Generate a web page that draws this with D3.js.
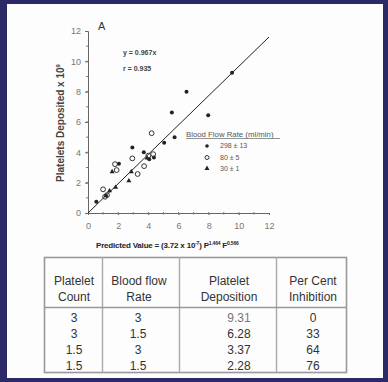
<!DOCTYPE html>
<html lang="en">
<head>
<meta charset="UTF-8">
<title>Platelet deposition</title>
<style>
    html, body { margin: 0; padding: 0; background: #2c2a66; }
    svg { display: block; font-family: "Liberation Sans", Arial, sans-serif; }
</style>
</head>
<body>
<svg id="chart"></svg>
<script src="https://d3js.org/d3.v7.min.js"></script>
<script>
    // Data: [predicted, deposited]
    var highFlow = [[0.55, 0.74], [2.05, 3.25], [2.94, 4.32], [3.7, 4.0], [4.06, 3.55], [4.37, 3.66],
                    [5.05, 4.63], [5.74, 5.0], [5.56, 6.62], [6.53, 8.0], [7.97, 6.45], [9.55, 9.25]];
    var midFlow = [[1.0, 1.56], [1.13, 1.07], [1.26, 1.18], [1.79, 3.22], [1.9, 2.83], [2.94, 3.6],
                   [3.29, 2.57], [3.72, 3.09], [4.0, 3.78], [4.32, 3.88], [4.22, 5.26]];
    var lowFlow = [[1.2, 1.15], [1.43, 1.46], [1.6, 2.72], [1.83, 1.69], [2.71, 2.12], [2.87, 2.72], [3.92, 3.62]];
    var slope = 0.967;
    var legendLabels = ["298 \u00b1 13", "80 \u00b1 5", "30 \u00b1 1"];

    var tableHead = [["Platelet", "Count"], ["Blood flow", "Rate"], ["Platelet", "Deposition"], ["Per Cent", "Inhibition"]];
    var tableRows = [["3", "3", "9.31", "0"], ["3", "1.5", "6.28", "33"], ["1.5", "3", "3.37", "64"], ["1.5", "1.5", "2.28", "76"]];

    var width = 388, height = 382;
    var svg = d3.select("#chart").attr("width", width).attr("height", height);

    // white slide panel
    svg.append("rect").attr("x", 7).attr("y", 4).attr("width", width - 12).attr("height", height - 8).attr("fill", "#fdfdfd");

    var x = d3.scaleLinear().domain([0, 12]).range([88, 269]);
    var y = d3.scaleLinear().domain([0, 12]).range([213, 31]);

    var g = svg.append("g");

    // axes
    var xAxis = d3.axisBottom(x).tickValues(d3.range(0, 13, 2)).tickSize(2).tickPadding(8);
    var yAxis = d3.axisLeft(y).tickValues(d3.range(0, 13, 2)).tickSize(3).tickPadding(4);

    var gx = g.append("g").attr("transform", "translate(0," + y(0) + ")").call(xAxis);
    var gy = g.append("g").attr("transform", "translate(" + x(0) + ",0)").call(yAxis);
    [gx, gy].forEach(function (a) {
        a.select(".domain").attr("stroke", "#666").attr("stroke-width", 1);
        a.selectAll(".tick line").attr("stroke", "#666");
        a.selectAll(".tick text").attr("fill", "#777").style("font-size", "9px").style("font-family", "Liberation Sans, Arial, sans-serif");
    });
    // minor ticks
    gx.selectAll(".minor").data(d3.range(1, 12)).enter().append("line")
        .attr("x1", d => x(d)).attr("x2", d => x(d)).attr("y1", -1).attr("y2", 1.5).attr("stroke", "#777");
    gy.selectAll(".minor").data(d3.range(1, 12)).enter().append("line")
        .attr("y1", d => y(d)).attr("y2", d => y(d)).attr("x1", -2).attr("x2", 1).attr("stroke", "#777");

    // regression line
    g.append("line")
        .attr("x1", x(0)).attr("y1", y(0))
        .attr("x2", x(12)).attr("y2", y(12 * slope))
        .attr("stroke", "#222").attr("stroke-width", 1);

    // points
    g.selectAll(".hi").data(highFlow).enter().append("circle")
        .attr("cx", d => x(d[0])).attr("cy", d => y(d[1])).attr("r", 2).attr("fill", "#222");
    g.selectAll(".mid").data(midFlow).enter().append("circle")
        .attr("cx", d => x(d[0])).attr("cy", d => y(d[1])).attr("r", 2.4)
        .attr("fill", "none").attr("stroke", "#333").attr("stroke-width", 1);
    var tri = d3.symbol().type(d3.symbolTriangle).size(11);
    g.selectAll(".lo").data(lowFlow).enter().append("path")
        .attr("d", tri).attr("transform", d => "translate(" + x(d[0]) + "," + y(d[1]) + ")").attr("fill", "#222");

    // panel letter and fit
    g.append("text").attr("x", 98).attr("y", 30).text("A").attr("fill", "#333").style("font-size", "11px");
    g.append("text").attr("x", 123).attr("y", 55).text("y = 0.967x").attr("fill", "#444")
        .style("font-size", "7px").style("font-weight", "bold");
    g.append("text").attr("x", 123).attr("y", 71).text("r = 0.935").attr("fill", "#444")
        .style("font-size", "7px").style("font-weight", "bold");

    // legend
    var lg = g.append("g");
    lg.append("text").attr("x", 186).attr("y", 137).text("Blood Flow Rate (ml/min)")
        .attr("fill", "#555").style("font-size", "7.8px");
    lg.append("line").attr("x1", 186).attr("x2", 280).attr("y1", 138.5).attr("y2", 138.5).attr("stroke", "#777").attr("stroke-width", 0.8);
    var ly = [148, 159.5, 170.5];
    lg.append("circle").attr("cx", 207).attr("cy", ly[0] - 2).attr("r", 1.8).attr("fill", "#222");
    lg.append("circle").attr("cx", 207).attr("cy", ly[1] - 2).attr("r", 2).attr("fill", "none").attr("stroke", "#333");
    lg.append("path").attr("d", tri).attr("transform", "translate(207," + (ly[2] - 2) + ")").attr("fill", "#222");
    lg.selectAll(".lt").data(legendLabels).enter().append("text")
        .attr("x", 220).attr("y", (d, i) => ly[i]).text(d => d)
        .attr("fill", "#555").style("font-size", "7px");

    // axis titles
    var yt = g.append("text").attr("transform", "translate(64,123) rotate(-90)")
        .attr("text-anchor", "middle").attr("fill", "#444")
        .style("font-size", "10px").style("font-weight", "bold");
    yt.append("tspan").text("Platelets Deposited x 10");
    yt.append("tspan").text("9").attr("dy", -4).style("font-size", "6px");

    var xt = g.append("text").attr("x", 96).attr("y", 248).attr("fill", "#222")
        .style("font-size", "8px").style("font-weight", "bold").style("letter-spacing", "-0.2px");
    xt.append("tspan").text("Predicted Value = (3.72 x 10");
    xt.append("tspan").text("-7").attr("dy", -3).style("font-size", "5px");
    xt.append("tspan").text(") P").attr("dy", 3);
    xt.append("tspan").text("1.464").attr("dy", -3).style("font-size", "5px");
    xt.append("tspan").text(" F").attr("dy", 3);
    xt.append("tspan").text("0.566").attr("dy", -3).style("font-size", "5px");

    // table
    var colX = [44.5, 102.5, 179.5, 276.5, 346.5];
    var tTop = 257.5, tHead = 307.5, tBot = 372.5;
    var tb = svg.append("g");
    tb.append("rect").attr("x", colX[0]).attr("y", tTop).attr("width", colX[4] - colX[0]).attr("height", tBot - tTop)
        .attr("fill", "none").attr("stroke", "#999").attr("stroke-width", 1.6);
    tb.selectAll(".cl").data(colX.slice(1, 4)).enter().append("line")
        .attr("x1", d => d).attr("x2", d => d).attr("y1", tTop).attr("y2", tBot)
        .attr("stroke", "#aaa").attr("stroke-width", 1.4);
    tb.append("line").attr("x1", colX[0]).attr("x2", colX[4]).attr("y1", tHead).attr("y2", tHead)
        .attr("stroke", "#999").attr("stroke-width", 1.4);

    var colC = [74, 139, 229, 313];
    var dataC = [74, 138, 239, 313];
    tableHead.forEach(function (h, i) {
        h.forEach(function (t, j) {
            tb.append("text").attr("x", colC[i]).attr("y", 285 + j * 16).attr("text-anchor", "middle")
                .text(t).attr("fill", "#333").style("font-size", "12px");
        });
    });
    tableRows.forEach(function (r, j) {
        r.forEach(function (t, i) {
            tb.append("text").attr("x", dataC[i]).attr("y", 321.5 + j * 16.3).attr("text-anchor", "middle")
                .text(t).attr("fill", i == 2 && j == 0 ? "#777" : "#333").style("font-size", "12px");
        });
    });
</script>
</body>
</html>
